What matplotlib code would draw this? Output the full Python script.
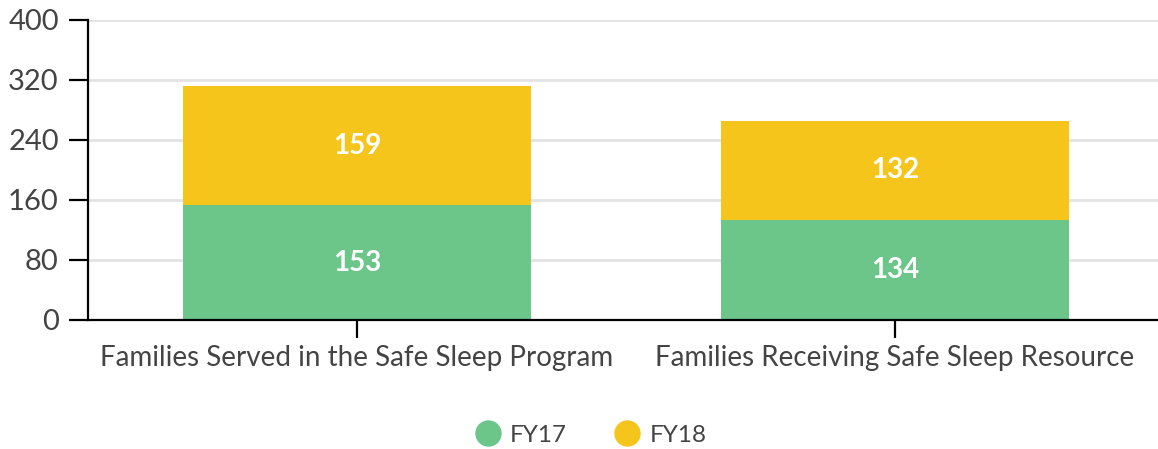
import matplotlib.pyplot as plt
from matplotlib.lines import Line2D

# chart data
categories = ['Families Served in the Safe Sleep Program', 'Families Receiving Safe Sleep Resource']
fy17 = [153, 134]
fy18 = [159, 132]
yticks = [0, 80, 160, 240, 320, 400]

green = '#6cc68a'
yellow = '#f5c51b'
text_col = '#444444'

plt.rcParams['font.family'] = ['Lato', 'DejaVu Sans']

fig = plt.figure(figsize=(11.58, 4.49), dpi=100)
ax = fig.add_axes([88 / 1158, 129 / 449, 1076 / 1158, 300 / 449])

x = list(range(len(categories)))
bw = 0.645
ax.bar(x, fy17, width=bw, color=green, label='FY17', zorder=2)
ax.bar(x, fy18, width=bw, bottom=fy17, color=yellow, label='FY18', zorder=2)

# value labels in the middle of each segment
for i in x:
    ax.text(i, fy17[i] / 2, str(fy17[i]), ha='center', va='center',
            color='white', fontsize=20, fontweight='bold', zorder=3)
    ax.text(i, fy17[i] + fy18[i] / 2, str(fy18[i]), ha='center', va='center',
            color='white', fontsize=20, fontweight='bold', zorder=3)

ax.set_xlim(-0.5, 1.5)
ax.set_ylim(0, 400)
ax.set_yticks(yticks)
ax.set_xticks(x)
ax.set_xticklabels(categories)

ax.grid(axis='y', color='#e3e3e3', linewidth=2, zorder=0)
for side in ['top', 'right']:
    ax.spines[side].set_visible(False)
for side in ['left', 'bottom']:
    ax.spines[side].set_linewidth(1.6)
    ax.spines[side].set_color('black')
    ax.spines[side].set_zorder(4)

ax.tick_params(axis='y', length=14, width=1.6, pad=7, labelsize=21, labelcolor=text_col)
ax.tick_params(axis='x', length=13, width=1.6, pad=5, labelsize=20, labelcolor=text_col)

# round legend markers
handles = [Line2D([], [], marker='o', linestyle='', markersize=18, color=c) for c in [green, yellow]]
fig.legend(handles=handles, labels=['FY17', 'FY18'], loc='center',
           bbox_to_anchor=(591 / 1158, 1 - 435 / 449), ncol=2, frameon=False,
           fontsize=17.5, handlelength=1.0, columnspacing=2.0,
           handletextpad=0.4, labelcolor=text_col)

fig.savefig('out.png', dpi=100)
